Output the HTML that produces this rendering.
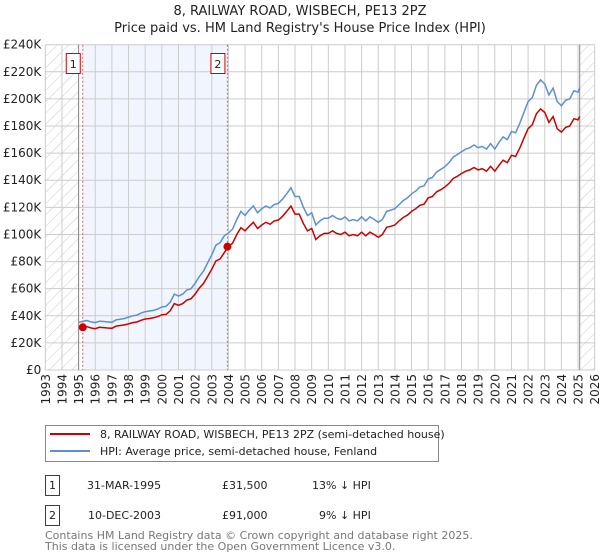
<!DOCTYPE html>
<html><head><meta charset="utf-8"><style>
body{margin:0;background:#fff;font-family:"DejaVu Sans","Liberation Sans",sans-serif}
svg{display:block}
</style></head><body>
<svg width="600" height="560" viewBox="0 0 600 560">
<defs><pattern id="hatch" patternUnits="userSpaceOnUse" width="8" height="8" patternTransform="rotate(45)"><line x1="0" y1="0" x2="0" y2="8" stroke="#ccc" stroke-width="1"/></pattern></defs>
<text x="300" y="15" text-anchor="middle" font-size="13" fill="#222">8, RAILWAY ROAD, WISBECH, PE13 2PZ</text>
<text x="300" y="32" text-anchor="middle" font-size="13" fill="#222">Price paid vs. HM Land Registry's House Price Index (HPI)</text>
<g id="plot"></g>
<g>
<rect x="45.5" y="425.5" width="393" height="36" fill="#fff" stroke="#888"/>
<line x1="50" y1="434" x2="90" y2="434" stroke="#cc0000" stroke-width="2"/>
<text x="100" y="438" font-size="11" fill="#222">8, RAILWAY ROAD, WISBECH, PE13 2PZ (semi-detached house)</text>
<line x1="50" y1="451" x2="90" y2="451" stroke="#5b8fd6" stroke-width="2"/>
<text x="100" y="455" font-size="11" fill="#222">HPI: Average price, semi-detached house, Fenland</text>
</g>
<g font-size="11" fill="#222">
<rect x="45.5" y="475.5" width="14" height="20" fill="#fff" stroke="#cc0000"/>
<text x="52.5" y="489" text-anchor="middle">1</text>
<text x="87" y="489">31-MAR-1995</text><text x="222" y="489">£31,500</text><text x="312" y="489">13% ↓ HPI</text>
<rect x="45.5" y="505.5" width="14" height="20" fill="#fff" stroke="#cc0000"/>
<text x="52.5" y="519" text-anchor="middle">2</text>
<text x="88" y="519">10-DEC-2003</text><text x="222" y="519">£91,000</text><text x="319" y="519">9% ↓ HPI</text>
</g>
<text x="45" y="539" font-size="11" fill="#777">Contains HM Land Registry data © Crown copyright and database right 2025.</text>
<text x="45" y="550" font-size="11" fill="#777">This data is licensed under the Open Government Licence v3.0.</text>
</svg>
<script>
const years=[1995.0,1995.25,1995.5,1995.75,1996.0,1996.25,1996.5,1996.75,1997.0,1997.25,1997.5,1997.75,1998.0,1998.25,1998.5,1998.75,1999.0,1999.25,1999.5,1999.75,2000.0,2000.25,2000.5,2000.75,2001.0,2001.25,2001.5,2001.75,2002.0,2002.25,2002.5,2002.75,2003.0,2003.25,2003.5,2003.75,2004.0,2004.25,2004.5,2004.75,2005.0,2005.25,2005.5,2005.75,2006.0,2006.25,2006.5,2006.75,2007.0,2007.25,2007.5,2007.75,2008.0,2008.25,2008.5,2008.75,2009.0,2009.25,2009.5,2009.75,2010.0,2010.25,2010.5,2010.75,2011.0,2011.25,2011.5,2011.75,2012.0,2012.25,2012.5,2012.75,2013.0,2013.25,2013.5,2013.75,2014.0,2014.25,2014.5,2014.75,2015.0,2015.25,2015.5,2015.75,2016.0,2016.25,2016.5,2016.75,2017.0,2017.25,2017.5,2017.75,2018.0,2018.25,2018.5,2018.75,2019.0,2019.25,2019.5,2019.75,2020.0,2020.25,2020.5,2020.75,2021.0,2021.25,2021.5,2021.75,2022.0,2022.25,2022.5,2022.75,2023.0,2023.25,2023.5,2023.75,2024.0,2024.25,2024.5,2024.75,2025.0,2025.1];
const hpi=[35,36,36.5,35.5,35,36,35.8,35.5,35.2,37,37.5,38,39,40,40.5,42,43,43.5,44,45,46.5,47,50,56,54.5,56,59,60,64,69,73,79,85,92,94,99,101,104,111,117,114,118,121,116,119,121,119.5,122,123,126,130,134.5,128,128,120,114,116,107,110,112,112,114,112,111,113,110,111,110,113,110,113,111,109,111,117,118,119,122,125,127,130,132,135,136,141,142,146,148,150,153,157,159,161,163,164,166,164,165,163,167,163,168,172,170,176,175,182,190,198,201,210,214,211,203,208,198,195,199,200,206,205,208];
const price=[null,31.5,32,31,30.5,31.5,31.3,31,30.8,32.4,32.8,33.3,34,35,35.4,36.7,37.6,38,38.5,39.4,40.7,41,43.7,49,47.7,49,51.6,52.5,56,60.4,63.9,69,74.4,80.5,82,86.6,91,93.6,100,105,102.6,106,109,104.4,107,109,107.5,110,110.7,113.4,117,121,115,115,108,102.6,104.4,96.3,99,100.8,100.8,102.6,100.8,100,101.7,99,100,99,101.7,99,101.7,100,98,100,105.3,106,107,110,112.5,114.3,117,119,121.5,122.4,127,128,131.4,133,135,137.7,141.3,143,145,146.7,147.6,149.4,147.6,148.5,146.7,150.3,146.7,151,154.8,153,158.4,157.5,163.8,171,178,181,189,192.6,190,182.7,187,178,175.5,179,180,185.4,184.5,187];
const saleYears=[1995.25,2003.94];
const saleValues=[31.5,91];
const saleLabels=["1","2"];
const yTicks=[0,20,40,60,80,100,120,140,160,180,200,220,240];
const yTickLabels=["£0","£20K","£40K","£60K","£80K","£100K","£120K","£140K","£160K","£180K","£200K","£220K","£240K"];
const xTicks=[1993,1994,1995,1996,1997,1998,1999,2000,2001,2002,2003,2004,2005,2006,2007,2008,2009,2010,2011,2012,2013,2014,2015,2016,2017,2018,2019,2020,2021,2022,2023,2024,2025,2026];
const dataEnd=2025.1;

const L=45.3,R=594.7,T=44.7,B=370;
const X=y=>L+(y-1993)/(2026-1993)*(R-L);
const Y=v=>B-v/240*(B-T);
const NS='http://www.w3.org/2000/svg';
const g=document.getElementById('plot');
function mk(tag,attrs,parent){const e=document.createElementNS(NS,tag);for(const k in attrs)e.setAttribute(k,attrs[k]);(parent||g).appendChild(e);return e;}

let e=mk('rect',{x:X(saleYears[0]),y:T,width:X(saleYears[1])-X(saleYears[0]),height:B-T,fill:'#eef3fc',opacity:0.8});


e=mk('rect',{x:L,y:T,width:X(1995)-L,height:B-T,fill:'url(#hatch)'});


e=mk('rect',{x:X(dataEnd),y:T,width:R-X(dataEnd),height:B-T,fill:'url(#hatch)'});



yTicks.forEach((v,i)=>{
  let l=mk('line',{x1:L,x2:R,y1:Y(v),y2:Y(v),stroke:'#ccc','stroke-width':1});
  
  
  let t=mk('text',{x:L-4,y:Y(v)+4,'text-anchor':'end','font-size':12,fill:'#222'});
  t.textContent=yTickLabels[i];
  
  
});
xTicks.forEach(yr=>{
  let l=mk('line',{x1:X(yr),x2:X(yr),y1:T,y2:B,stroke:'#ccc','stroke-width':1});
  
  
  let t=mk('text',{x:0,y:0,'text-anchor':'end','font-size':12,fill:'#222',transform:`translate(${X(yr)+4.5},${B+4}) rotate(-90)`});
  t.textContent=yr;
  
  
});
e=mk('line',{x1:X(1995),x2:X(1995),y1:T,y2:B,stroke:'#888'});


e=mk('line',{x1:X(dataEnd),x2:X(dataEnd),y1:T,y2:B,stroke:'#888'});



saleYears.forEach((yr,i)=>{
  let l=mk('line',{x1:X(yr),x2:X(yr),y1:T,y2:B,stroke:'#e06060','stroke-dasharray':'2,2','stroke-width':1});
  
  
  let bx=mk('rect',{x:X(yr)-16.5,y:53.5,width:14,height:20,fill:'#fff',stroke:'#cc0000'});
  
  
  let t=mk('text',{x:X(yr)-9.5,y:68,'text-anchor':'middle','font-size':11,fill:'#222'});
  t.textContent=saleLabels[i];
  
  
});

function path(vals){let d='';vals.forEach((v,i)=>{if(v==null)return;d+=(d?'L':'M')+X(years[i]).toFixed(1)+','+Y(v).toFixed(1);});return d;}
e=mk('path',{d:path(hpi),fill:'none',stroke:'#5b8fd6','stroke-width':1.5});


e=mk('path',{d:path(price),fill:'none',stroke:'#cc0000','stroke-width':1.5});


saleYears.forEach((yr,i)=>{
  let c=mk('circle',{cx:X(yr),cy:Y(saleValues[i]),r:4,fill:'#cc0000'});
  
  
});
</script>
</body></html>
